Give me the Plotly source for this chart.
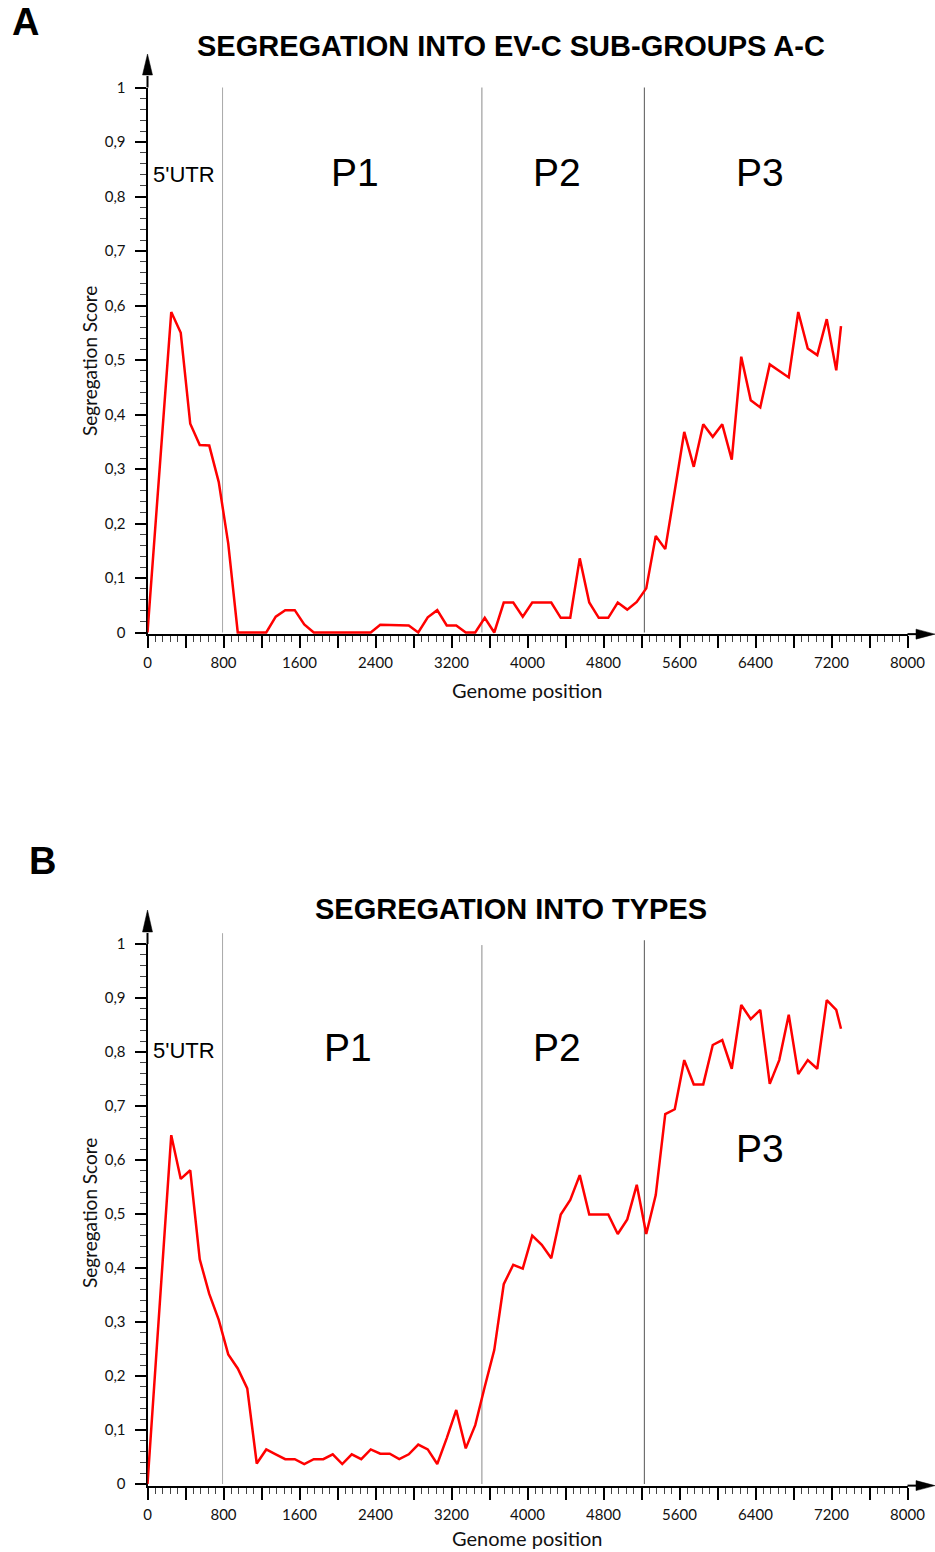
import plotly.graph_objects as go

W, H = 935, 1552

# ---------------- data ----------------
positions = [0, 250, 350, 450, 550, 650, 750, 850, 950,
             1050, 1150, 1250, 1350, 1450, 1550, 1650, 1750, 1850, 1950,
             2050, 2150, 2250, 2350, 2450, 2550, 2650, 2750, 2850, 2950,
             3050, 3150, 3250, 3350, 3450, 3550, 3650, 3750, 3850, 3950,
             4050, 4150, 4250, 4350, 4450, 4550, 4650, 4750, 4850, 4950,
             5050, 5150, 5250, 5350, 5450, 5550, 5650, 5750, 5850, 5950,
             6050, 6150, 6250, 6350, 6450, 6550, 6650, 6750, 6850, 6950,
             7050, 7150, 7250, 7300]

score_subgroups = [0.0, 0.588, 0.550, 0.383, 0.344, 0.343, 0.276, 0.163, 0.0,
                   0.0, 0.0, 0.0, 0.029, 0.041, 0.041, 0.015, 0.0, 0.0, 0.0,
                   0.0, 0.0, 0.0, 0.0, 0.014, 0.014, 0.014, 0.013, 0.0, 0.028,
                   0.041, 0.013, 0.013, 0.0, 0.0, 0.027, 0.0, 0.055, 0.055, 0.029,
                   0.055, 0.055, 0.055, 0.027, 0.027, 0.136, 0.055, 0.027, 0.027, 0.055,
                   0.042, 0.056, 0.081, 0.177, 0.153, 0.260, 0.368, 0.304, 0.382, 0.359,
                   0.382, 0.317, 0.506, 0.426, 0.413, 0.492, 0.480, 0.468, 0.588, 0.521,
                   0.509, 0.575, 0.481, 0.562]

score_types = [0.0, 0.646, 0.565, 0.581, 0.416, 0.352, 0.304, 0.240, 0.214,
               0.177, 0.038, 0.064, 0.055, 0.046, 0.046, 0.037, 0.046, 0.046, 0.055,
               0.037, 0.055, 0.046, 0.064, 0.056, 0.056, 0.046, 0.055, 0.073, 0.064,
               0.037, 0.085, 0.137, 0.066, 0.109, 0.180, 0.248, 0.370, 0.406, 0.399,
               0.460, 0.443, 0.418, 0.499, 0.526, 0.572, 0.499, 0.499, 0.499, 0.463,
               0.490, 0.554, 0.463, 0.535, 0.685, 0.694, 0.785, 0.740, 0.740, 0.813,
               0.822, 0.769, 0.887, 0.861, 0.878, 0.741, 0.785, 0.869, 0.759, 0.785,
               0.769, 0.896, 0.878, 0.843]

region_boundaries = [790, 3520, 5230]
region_labels = ["5'UTR", "P1", "P2", "P3"]

x_tick_values = [0, 400, 800, 1200, 1600, 2000, 2400, 2800, 3200, 3600, 4000,
                 4400, 4800, 5200, 5600, 6000, 6400, 6800, 7200, 7600, 8000]
x_tick_labels = ["0", "", "800", "", "1600", "", "2400", "", "3200", "", "4000",
                 "", "4800", "", "5600", "", "6400", "", "7200", "", "8000"]
y_tick_values = [0, 0.1, 0.2, 0.3, 0.4, 0.5, 0.6, 0.7, 0.8, 0.9, 1.0]
y_tick_labels = ["0", "0,1", "0,2", "0,3", "0,4", "0,5", "0,6", "0,7", "0,8", "0,9", "1"]

titles = ["SEGREGATION INTO EV-C SUB-GROUPS A-C", "SEGREGATION INTO TYPES"]
panel_letters = ["A", "B"]
x_title = "Genome position"
y_title = "Segregation Score"

# ---------------- geometry (pixels) ----------------
def px(x):
    return x / W

def py(y):
    return 1 - y / H

X0, X1 = 147.5, 907.5          # pixel of 0 and 8000
X_ARROW_BASE, X_ARROW_TIP = 916, 935
YMIN = -0.003

panels = [
    dict(y0=632.5, y1=87.5, tip=54, base=75, title_y=46, letter=(25, 22),
         xlab_y=690, ylab_y=361, utr_y=174, p_y=[172, 172, 172],
         p_x=[355, 557, 760], line_tops=[1.0, 1.0, 1.0], data=score_subgroups),
    dict(y0=1484.0, y1=944.0, tip=910, base=932, title_y=909, letter=(42, 861),
         xlab_y=1538, ylab_y=1213, utr_y=1050, p_y=[1047, 1047, 1148],
         p_x=[348, 557, 760], line_tops=[1.02, 0.998, 1.007], data=score_types),
]
line_colors = ["#a8a8a8", "#8a8a8a", "#555555"]

TICK_FONT = dict(family="Lato, Carlito, sans-serif", size=15, color="#111111")
ARIAL = "Liberation Sans, Arial, sans-serif"

fig = go.Figure()
layout = dict(width=W, height=H,
              margin=dict(l=0, r=0, t=0, b=0, pad=0, autoexpand=False),
              paper_bgcolor="white", plot_bgcolor="white", showlegend=False)
shapes, annotations = [], []

for i, p in enumerate(panels):
    xa = "xaxis" if i == 0 else "xaxis2"
    ya = "yaxis" if i == 0 else "yaxis2"
    xr = "x" if i == 0 else "x2"
    yr = "y" if i == 0 else "y2"
    scale = p["y0"] - p["y1"]
    bottom_px = p["y0"] - YMIN * scale

    layout[xa] = dict(domain=[px(X0), px(X1)], range=[0, 8000], anchor=yr,
                      automargin=False,
                      showline=True, linewidth=2, linecolor="black",
                      ticks="outside", ticklen=12, tickwidth=2, tickcolor="black",
                      tickmode="array", tickvals=x_tick_values, ticktext=x_tick_labels,
                      tickfont=TICK_FONT, ticklabelstandoff=2,
                      minor=dict(dtick=80, tick0=0, ticks="outside", ticklen=6,
                                 tickwidth=1, tickcolor="#444444"),
                      showgrid=False, zeroline=False, layer="below traces",
                      fixedrange=True)
    layout[ya] = dict(domain=[py(bottom_px), py(p["y1"])], range=[YMIN, 1.0], anchor=xr,
                      automargin=False,
                      showline=True, linewidth=2, linecolor="black",
                      ticks="outside", ticklen=11, tickwidth=2, tickcolor="black",
                      tickmode="array", tickvals=y_tick_values, ticktext=y_tick_labels,
                      tickfont=TICK_FONT, ticklabelstandoff=6,
                      minor=dict(dtick=0.02, tick0=0, ticks="outside", ticklen=6,
                                 tickwidth=1, tickcolor="#444444"),
                      showgrid=False, zeroline=False, layer="below traces",
                      fixedrange=True)

    # region boundary lines
    for b, top, col in zip(region_boundaries, p["line_tops"], line_colors):
        shapes.append(dict(type="line", xref=xr, yref="paper",
                           x0=b, x1=b, y0=py(p["y0"]), y1=py(p["y0"] - top * scale),
                           line=dict(color=col, width=1), layer="below"))

    # axis extensions + arrowheads
    shapes.append(dict(type="line", xref="paper", yref="paper",
                       x0=px(X0), x1=px(X0), y0=py(p["y1"]), y1=py(p["base"] + 1),
                       line=dict(color="black", width=2)))
    shapes.append(dict(type="path", xref="paper", yref="paper",
                       path=f"M {px(X0 - 5)} {py(p['base'])} L {px(X0 + 5)} {py(p['base'])} "
                            f"L {px(X0)} {py(p['tip'])} Z",
                       fillcolor="black", line=dict(color="black", width=0.5)))
    yax_px = bottom_px
    shapes.append(dict(type="line", xref="paper", yref="paper",
                       x0=px(X1), x1=px(X_ARROW_BASE + 1), y0=py(yax_px), y1=py(yax_px),
                       line=dict(color="black", width=2)))
    shapes.append(dict(type="path", xref="paper", yref="paper",
                       path=f"M {px(X_ARROW_BASE)} {py(yax_px - 5)} L {px(X_ARROW_BASE)} {py(yax_px + 5)} "
                            f"L {px(X_ARROW_TIP)} {py(yax_px)} Z",
                       fillcolor="black", line=dict(color="black", width=0.5)))

    # data line
    fig.add_trace(go.Scatter(x=positions, y=p["data"], mode="lines",
                             line=dict(color="#ff0000", width=2.5),
                             xaxis=xr, yaxis=yr, hoverinfo="x+y"))

    # texts
    annotations.append(dict(text=f"<b>{panel_letters[i]}</b>", xref="paper", yref="paper",
                            x=px(p["letter"][0]), y=py(p["letter"][1]), showarrow=False,
                            xanchor="center", yanchor="middle",
                            font=dict(family=ARIAL, size=38, color="black")))
    annotations.append(dict(text=f"<b>{titles[i]}</b>", xref="paper", yref="paper",
                            x=px(511), y=py(p["title_y"]), showarrow=False,
                            xanchor="center", yanchor="middle",
                            font=dict(family=ARIAL, size=29, color="black")))
    annotations.append(dict(text=x_title, xref="paper", yref="paper",
                            x=px(527), y=py(p["xlab_y"]), showarrow=False,
                            xanchor="center", yanchor="middle",
                            font=dict(family="Lato, sans-serif", size=20, color="#111111")))
    annotations.append(dict(text=y_title, xref="paper", yref="paper", textangle=-90,
                            x=px(89), y=py(p["ylab_y"]), showarrow=False,
                            xanchor="center", yanchor="middle",
                            font=dict(family="Lato, sans-serif", size=19, color="#111111")))
    annotations.append(dict(text=region_labels[0], xref="paper", yref="paper",
                            x=px(151), y=py(p["utr_y"]), showarrow=False,
                            xanchor="left", yanchor="middle",
                            font=dict(family=ARIAL, size=22, color="black")))
    for lab, lx, ly in zip(region_labels[1:], p["p_x"], p["p_y"]):
        annotations.append(dict(text=lab, xref="paper", yref="paper",
                                x=px(lx), y=py(ly), showarrow=False,
                                xanchor="center", yanchor="middle",
                                font=dict(family=ARIAL, size=39, color="black")))

layout["shapes"] = shapes
layout["annotations"] = annotations
fig.update_layout(**layout)
fig.write_html("out.html",
               config={"displayModeBar": False},
               post_script="document.body.style.margin='0';"
                           "document.documentElement.style.overflow='hidden';")
